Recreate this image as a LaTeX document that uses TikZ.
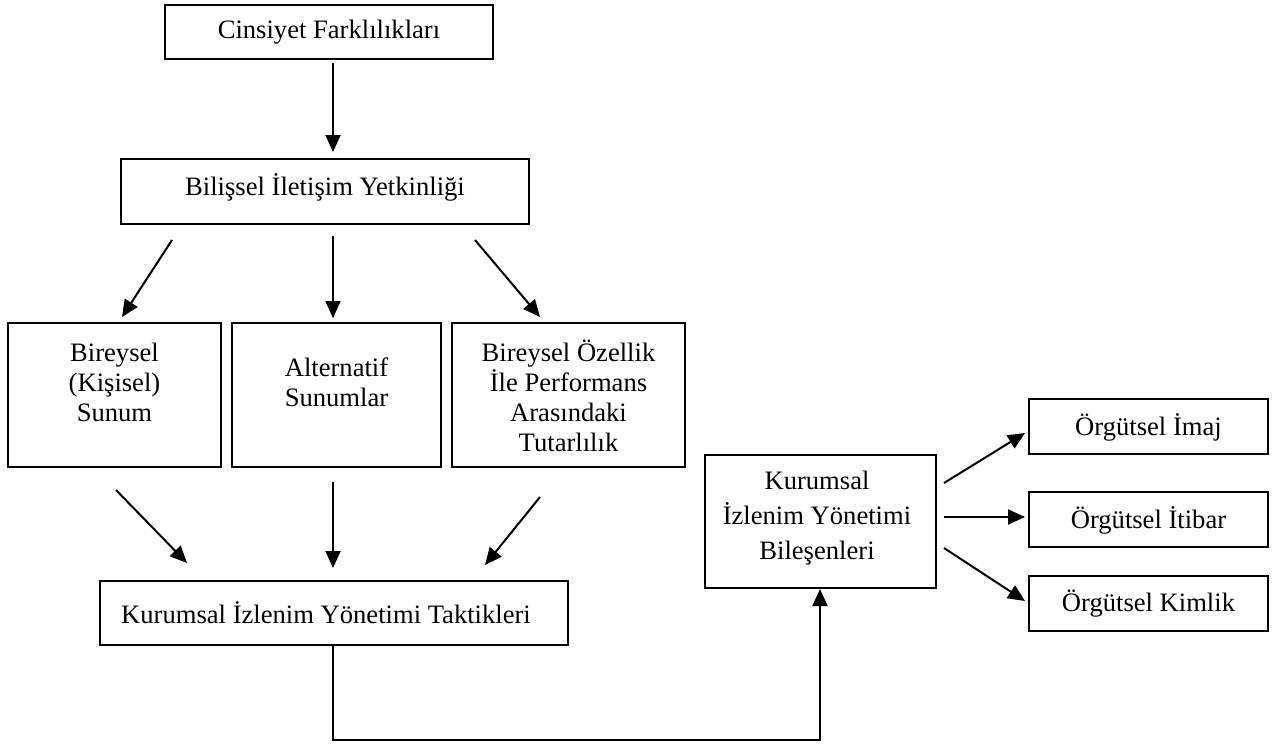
\documentclass[tikz,border=0pt]{standalone}
\usepackage{fontspec}
\setmainfont{Liberation Serif}
\usetikzlibrary{arrows.meta}
\begin{document}
\begin{tikzpicture}[x=0.5pt,y=-0.5pt,
  box/.style={draw, line width=1pt, inner sep=0pt, anchor=center},
  txt/.style={font=\fontsize{13.3}{15}\selectfont, align=center, inner sep=0pt, anchor=center},
  txtwide/.style={font=\fontsize{13.3}{17.5}\selectfont, align=center, inner sep=0pt, anchor=center},
  arr/.style={line width=1pt, -{Triangle[length=8.5pt,width=7.5pt]}}]
\useasboundingbox (0,0) rectangle (1286,745);

% boxes
\node[box, minimum width=164pt, minimum height=27pt] (cf) at (329,32) {};
\node[txt] (cftxt) at (329,32) {Cinsiyet Farklılıkları};

\node[box, minimum width=204pt, minimum height=32.5pt] (bil) at (325,191.5) {};
\node[txt] (biltxt) at (325,187) {Bilişsel İletişim Yetkinliği};

\node[box, minimum width=106.5pt, minimum height=72pt] (bs) at (114.5,395) {};
\node[txt] (bstxt) at (114.5,382) {Bireysel\\(Kişisel)\\Sunum};

\node[box, minimum width=104.5pt, minimum height=72pt] (as) at (336.5,395) {};
\node[txt] (astxt) at (336.5,382) {Alternatif\\Sunumlar};

\node[box, minimum width=116.5pt, minimum height=72pt] (bo) at (568.5,395) {};
\node[txt] (botxt) at (568.5,396) {Bireysel Özellik\\İle Performans\\Arasındaki\\Tutarlılık};

\node[box, minimum width=234pt, minimum height=32pt] (tak) at (334,613) {};
\node[txt] (taktxt) at (326,613) {Kurumsal İzlenim Yönetimi Taktikleri};

\node[box, minimum width=115.5pt, minimum height=66.5pt] (kib) at (820.5,521.5) {};
\node[txtwide] (kibtxt) at (817,518) {Kurumsal\\İzlenim Yönetimi\\Bileşenleri};

\node[box, minimum width=119.5pt, minimum height=27.5pt] (imaj) at (1148.5,426.5) {};
\node[txt] (imajtxt) at (1148.5,427) {Örgütsel İmaj};
\node[box, minimum width=119.5pt, minimum height=27.5pt] (itibar) at (1148.5,519.5) {};
\node[txt] (itibartxt) at (1148.5,520) {Örgütsel İtibar};
\node[box, minimum width=119.5pt, minimum height=27.5pt] (kimlik) at (1148.5,603.5) {};
\node[txt] (kimliktxt) at (1148.5,604) {Örgütsel Kimlik};

% free ends of the connectors
\coordinate (s1) at (333,63);   \coordinate (e1) at (333,152);
\coordinate (s2) at (172,240);  \coordinate (e2) at (122,317);
\coordinate (s3) at (333,236);  \coordinate (e3) at (333,318);
\coordinate (s4) at (475,240);  \coordinate (e4) at (540,317);
\coordinate (s5) at (116,490);  \coordinate (e5) at (187,563);
\coordinate (s6) at (333,482);  \coordinate (e6) at (333,568);
\coordinate (s7) at (540,497);  \coordinate (e7) at (485,565);
\coordinate (loopL) at (333,740); \coordinate (loopR) at (820,740);
\coordinate (s9) at (944,483);  \coordinate (e9) at (1025,433);
\coordinate (s10) at (944,517); \coordinate (e10) at (1025,517);
\coordinate (s11) at (944,548); \coordinate (e11) at (1025,601);

% connectors
\draw[arr] (s1) -- (e1);
\draw[arr] (s2) -- (e2);
\draw[arr] (s3) -- (e3);
\draw[arr] (s4) -- (e4);
\draw[arr] (s5) -- (e5);
\draw[arr] (s6) -- (e6);
\draw[arr] (s7) -- (e7);
\draw[arr] (loopL |- tak.south) -- (loopL) -- (loopR) -- (loopR |- kib.south);
\draw[arr] (s9) -- (e9);
\draw[arr] (s10) -- (e10);
\draw[arr] (s11) -- (e11);
\end{tikzpicture}
\end{document}
